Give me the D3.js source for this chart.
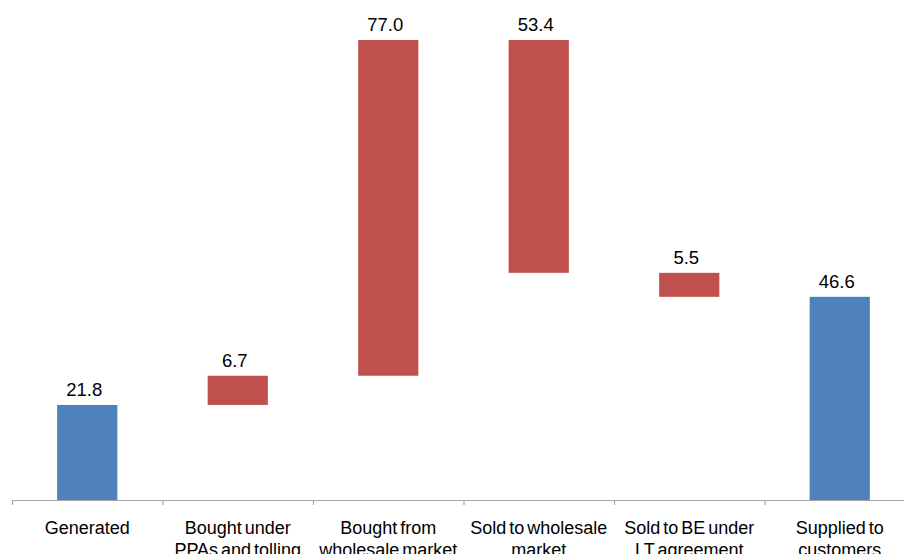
<!DOCTYPE html>
<html>
<head>
<meta charset="utf-8">
<script src="https://cdn.jsdelivr.net/npm/d3@7"></script>
<style>
  html, body { margin: 0; padding: 0; background: #ffffff; }
  svg { display: block; }
  text { font-family: "Liberation Sans", Arial, sans-serif; }
</style>
</head>
<body>
<svg id="chart" width="904" height="554"></svg>
<script>
// Energy balance waterfall (TWh)
const categories = [
  "Generated",
  "Bought under PPAs and tolling",
  "Bought from wholesale market",
  "Sold to wholesale market",
  "Sold to BE under LT agreement",
  "Supplied to customers"
];
const labelLines = [
  ["Generated"],
  ["Bought under", "PPAs and tolling"],
  ["Bought from", "wholesale market"],
  ["Sold to wholesale", "market"],
  ["Sold to BE under", "LT agreement"],
  ["Supplied to", "customers"]
];
const values = [21.8, 6.7, 77.0, 53.4, 5.5, 46.6];
// "total" bars stand on zero, "up"/"down" float on the running sum
const kinds = ["total", "up", "up", "down", "down", "total"];

const colors = { total: "#4F81BD", up: "#C0504D", down: "#C0504D" };

// Build floating segments from the running total
let running = 0;
const bars = categories.map((c, i) => {
  const v = values[i], k = kinds[i];
  let y0, y1;
  if (k === "total") { y0 = 0; y1 = v; running = v; }
  else if (k === "up") { y0 = running; y1 = running + v; running = y1; }
  else { y0 = running - v; y1 = running; running = y0; }
  return { cat: c, value: v, kind: k, lo: y0, hi: y1, lines: labelLines[i] };
});

const svg = d3.select("#chart");

const x = d3.scaleBand().domain(categories).range([12, 915]).padding(0);
const y = d3.scaleLinear().domain([0, 110]).range([500, 20.4]);

const barFrac = 0.4;
const bw = x.bandwidth() * barFrac;
const offset = (x.bandwidth() - bw) / 2;

svg.append("g")
  .selectAll("rect")
  .data(bars)
  .join("rect")
  .attr("x", d => x(d.cat) + offset)
  .attr("y", d => y(d.hi))
  .attr("width", bw)
  .attr("height", d => y(d.lo) - y(d.hi))
  .attr("fill", d => colors[d.kind]);

// Value labels above each bar
svg.append("g")
  .selectAll("text")
  .data(bars)
  .join("text")
  .attr("x", d => x(d.cat) + x.bandwidth() / 2 - 3)
  .attr("y", d => y(d.hi) - 9)
  .attr("text-anchor", "middle")
  .attr("font-size", 18.5)
  .attr("fill", "#000")
  .text(d => d3.format(".1f")(d.value));

// Category axis: domain line with ticks on the band boundaries
const axis = svg.append("g")
  .attr("transform", `translate(0,${y(0)})`)
  .call(d3.axisBottom(x).tickSize(0).tickSizeOuter(5).tickFormat(""));
axis.select(".domain").attr("stroke", "#A6A6A6").attr("stroke-width", 1.2);
axis.selectAll(".tick").remove();

axis.selectAll("line.boundary")
  .data(categories.slice(1))
  .join("line")
  .attr("class", "boundary")
  .attr("x1", d => x(d) + 0.5)
  .attr("x2", d => x(d) + 0.5)
  .attr("y1", 0)
  .attr("y2", 5)
  .attr("stroke", "#A6A6A6")
  .attr("stroke-width", 1.2);

// Wrapped category labels
const lab = svg.append("g")
  .selectAll("text")
  .data(bars)
  .join("text")
  .attr("text-anchor", "middle")
  .attr("font-size", 18)
  .attr("word-spacing", "-2px")
  .attr("fill", "#000")
  .attr("transform", d => `translate(${x(d.cat) + x.bandwidth() / 2},${y(0) + 34})`);

lab.selectAll("tspan")
  .data(d => d.lines)
  .join("tspan")
  .attr("x", 0)
  .attr("dy", (d, i) => i === 0 ? 0 : 22)
  .text(d => d);
</script>
</body>
</html>
